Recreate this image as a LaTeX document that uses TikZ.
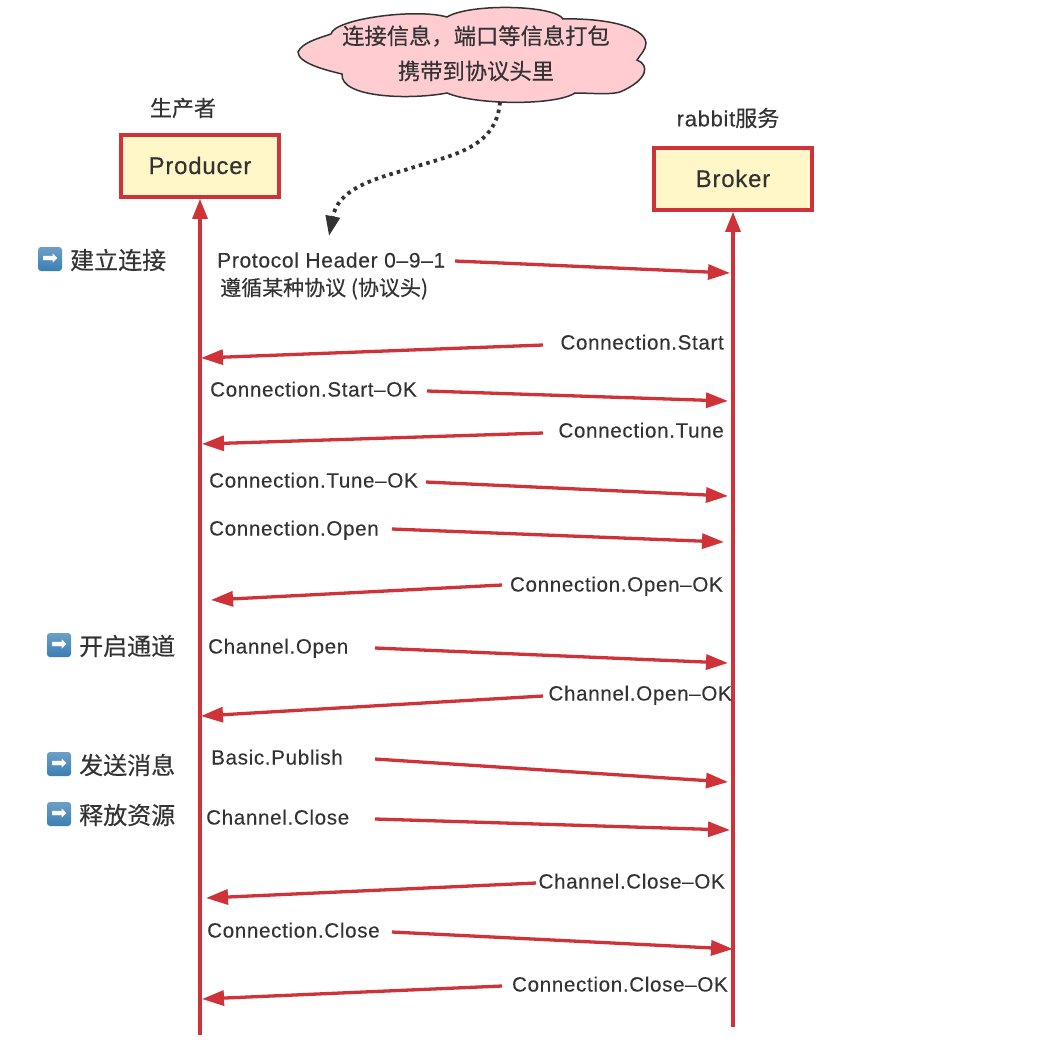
\documentclass[tikz,border=0pt]{standalone}
\usepackage{fontspec}
\setmainfont[LetterSpace=3.2,FakeBold=0.2]{Liberation Sans}
\newfontfamily\cjk[FakeBold=0.35]{Noto Sans CJK SC}
\newfontfamily\symb{DejaVu Sans}
\usepackage{xcolor}
\usetikzlibrary{arrows.meta}
\definecolor{msgred}{HTML}{CF3339}
\definecolor{boxyellow}{HTML}{FFF7C8}
\definecolor{cloudpink}{HTML}{FFCCD2}
\definecolor{textdark}{HTML}{333333}
\definecolor{tileblue}{HTML}{3B7FB4}
\tikzset{
  actorbox/.style={draw=msgred, line width=3.8pt, fill=boxyellow, minimum width=158pt, minimum height=62pt,
    inner sep=0pt, text=textdark, text height=17pt, text depth=1pt, font=\fontsize{24}{28}\selectfont},
  caption/.style={text=textdark, inner sep=0pt, font=\fontsize{22}{26}\selectfont},
  msglabel/.style={text=textdark, inner sep=0pt, text height=15pt, text depth=4pt, font=\fontsize{20.6}{25}\selectfont},
  sidelabel/.style={text=textdark, inner sep=0pt, anchor=west, font=\cjk\fontsize{24}{28}\selectfont},
  tile/.style={top color=tileblue!75, bottom color=tileblue, rounded corners=3pt, minimum size=24pt, inner sep=0pt,
    text=white, font=\symb\fontsize{19}{20}\selectfont},
  lifeline/.style={draw=msgred, line width=3.3pt, -{Triangle[length=20pt,width=15pt]}},
  msgarrow/.style={draw=msgred, line width=3.3pt, -{Triangle[length=22pt,width=15pt]}},
  cloudtext/.style={text=textdark, inner sep=0pt, font=\cjk\fontsize{22.3}{26}\selectfont},
}
\begin{document}
\begin{tikzpicture}[x=1pt, y=-1pt]
  \useasboundingbox (0,0) rectangle (1048,1046);
  % cloud
  \draw[draw=textdark, line width=1.5pt, fill=cloudpink]
    (298,52) .. controls (302,43) and (316,39) .. (331,34)
    .. controls (334,19) and (415,8) .. (447,17)
    .. controls (470,3) and (555,5) .. (563,19)
    .. controls (600,18) and (644,25) .. (646,43)
    .. controls (646,50) and (640,55) .. (637,60)
    .. controls (650,65) and (648,80) .. (620,92)
    .. controls (610,95) and (590,93) .. (575,93)
    .. controls (555,106) and (475,105) .. (447,93)
    .. controls (410,100) and (340,98) .. (342,74)
    .. controls (325,70) and (298,63) .. (298,52) -- cycle;
  \node[cloudtext] (cloudlinea) at (476,36) {连接信息，端口等信息打包};
  \node[cloudtext] (cloudlineb) at (476,71) {携带到协议头里};
  \coordinate (cloudtail) at (500,102);
  \coordinate (headerpoint) at (329,236);
  \draw[draw=textdark, line width=3.8pt, dash pattern=on 3.5pt off 4.2pt,
      -{Triangle[length=20pt,width=14pt]}]
    (cloudtail) .. controls (496,150) and (450,155) .. (405,170)
    .. controls (370,180) and (338,190) .. (headerpoint);

  % actors
  \node[actorbox] (producer) at (200,166) {Producer};
  \node[actorbox] (broker) at (733,179) {Broker};
  \node[caption, font=\cjk\fontsize{22}{26}\selectfont] (producername) at (183,108) {生产者};
  \node[caption] (brokername) at (728,118) {rabbit{\cjk 服务}};
  \coordinate (producerend) at (200,1035);
  \coordinate (brokerend) at (733,1027);
  \draw[lifeline] (producerend) -- (producer.south);
  \draw[lifeline] (brokerend) -- (broker.south);

  % messages
  \node[msglabel, anchor=west, font=\fontsize{21}{25}\selectfont] (protocolline) at (217,262) {Protocol Header 0–9–1};
  \node[msglabel, anchor=west] (protocolnote) at (220,290) {\cjk\fontsize{21}{25}\selectfont 遵循某种协议 (协议头)};
  \coordinate (protocolfrom) at (455,261);
  \coordinate (protocolto) at (730,273);
  \draw[msgarrow] (protocolfrom) -- (protocolto);
  \foreach \i/\txt/\anc/\tx/\ty/\sx/\sy/\ex/\ey in {
    1/Connection.Start/east/724/344/543/345/201/358,
    2/Connection.Start–OK/west/210/391/427/391/728/401,
    3/Connection.Tune/east/724/432/543/433/202/444,
    4/Connection.Tune–OK/west/209/482/426/482/728/496,
    5/Connection.Open/west/209/530/392/529/724/542,
    6/Connection.Open–OK/east/723/586/502/585/211/600,
    7/Channel.Open/west/208/648/375/648/728/663,
    8/Channel.Open–OK/east/732/695/543/696/201/716,
    9/Basic.Publish/west/211/759/375/759/728/782,
    10/Channel.Close/west/206/819/375/819/730/830,
    11/Channel.Close–OK/east/725/883/536/883/206/898,
    12/Connection.Close/west/207/932/392/932/733/949,
    13/Connection.Close–OK/east/728/986/502/986/202/999}{
    \node[msglabel, anchor=\anc] (msg\i) at (\tx,\ty) {\txt};
    \coordinate (from\i) at (\sx,\sy);
    \coordinate (to\i) at (\ex,\ey);
    \draw[msgarrow] (from\i) -- (to\i);
  }

  % phases
  \foreach \i/\txt/\tx/\ty in {1/建立连接/50/259, 2/开启通道/59/645, 3/发送消息/59/764, 4/释放资源/59/814}{
    \node[tile] (tile\i) at (\tx,\ty) {➡};
    \node[sidelabel] (phase\i) at (\tx+20,\ty+1) {\txt};
  }
\end{tikzpicture}
\end{document}
